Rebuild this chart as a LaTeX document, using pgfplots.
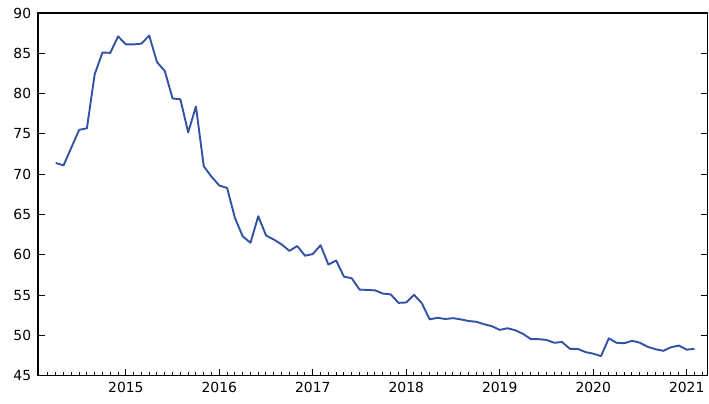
\documentclass[border=0pt]{standalone}
\usepackage{pgfplots}
\pgfplotsset{compat=1.18}
\usepackage{fontspec}
\setmainfont{DejaVu Sans}
\definecolor{linecol}{RGB}{52,82,164}
\pgfplotstableread{
x y
2014.25 71.4
2014.3333 71.1
2014.4167 73.3
2014.5 75.5
2014.5833 75.7
2014.6667 82.4
2014.75 85.1
2014.8333 85.05
2014.9167 87.1
2015.0 86.1
2015.0833 86.1
2015.1667 86.2
2015.25 87.2
2015.3333 83.9
2015.4167 82.8
2015.5 79.4
2015.5833 79.3
2015.6667 75.2
2015.75 78.4
2015.8333 71.0
2015.9167 69.7
2016.0 68.6
2016.0833 68.3
2016.1667 64.6
2016.25 62.3
2016.3333 61.5
2016.4167 64.8
2016.5 62.4
2016.5833 61.9
2016.6667 61.3
2016.75 60.5
2016.8333 61.1
2016.9167 59.9
2017.0 60.1
2017.0833 61.2
2017.1667 58.8
2017.25 59.3
2017.3333 57.3
2017.4167 57.1
2017.5 55.7
2017.5833 55.65
2017.6667 55.6
2017.75 55.2
2017.8333 55.1
2017.9167 54.05
2018.0 54.1
2018.0833 55.05
2018.1667 54.0
2018.25 52.0
2018.3333 52.2
2018.4167 52.05
2018.5 52.15
2018.5833 52.0
2018.6667 51.8
2018.75 51.7
2018.8333 51.4
2018.9167 51.15
2019.0 50.7
2019.0833 50.9
2019.1667 50.65
2019.25 50.2
2019.3333 49.55
2019.4167 49.55
2019.5 49.45
2019.5833 49.1
2019.6667 49.2
2019.75 48.35
2019.8333 48.35
2019.9167 47.95
2020.0 47.75
2020.0833 47.45
2020.1667 49.65
2020.25 49.1
2020.3333 49.05
2020.4167 49.35
2020.5 49.1
2020.5833 48.6
2020.6667 48.3
2020.75 48.1
2020.8333 48.55
2020.9167 48.75
2021.0 48.25
2021.0833 48.35
}\datatable
\begin{document}
\fontsize{13.9bp}{16bp}\selectfont
\begin{tikzpicture}
\begin{axis}[
  scale only axis,
  width=670bp, height=363bp,
  xmin=2014.06, xmax=2021.225,
  ymin=45, ymax=90,
  xtick={2015,2016,2017,2018,2019,2020,2021},
  minor xtick={2014.1666667,2014.25,...,2021.2},
  ytick={45,50,55,60,65,70,75,80,85,90},
  tick align=inside,
  xtick pos=bottom,
  ytick pos=both,
  major tick length=7bp,
  minor tick length=3.5bp,
  every tick/.style={black, line width=1bp},
  axis line style={line width=1.3bp},
  tick label style={font=\fontsize{13.9bp}{16bp}\selectfont},
  /pgf/number format/assume math mode=true,
  xticklabel style={/pgf/number format/1000 sep={}, yshift=-2bp},
  yticklabel style={xshift=-2bp},
]
\addplot[linecol, line width=1.9bp, line join=round] table[x=x,y=y] {\datatable};
\end{axis}
\path (current axis.south west) ++(-38bp,-28bp) coordinate (bba);
\path (current axis.north east) ++(1bp,13bp) coordinate (bbb);
\end{tikzpicture}
\end{document}
